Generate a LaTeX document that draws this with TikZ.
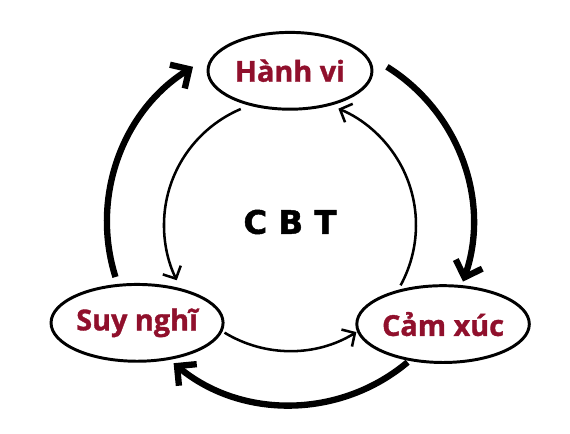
\documentclass[tikz,border=0pt]{standalone}
\usepackage{fontspec}
\setmainfont{Open Sans}[BoldFeatures={FakeBold=1.2}]
\newfontfamily\cbtfont{DejaVu Sans}[BoldFeatures={FakeBold=1.5}]
\usetikzlibrary{arrows.meta,shapes.geometric}
\definecolor{labelred}{RGB}{144,16,44}
\begin{document}
\begin{tikzpicture}[
   bubble/.style={ellipse,draw,line width=2.1pt,minimum width=4.1cm,minimum height=1.92cm,
      inner sep=0pt,text=labelred,font=\fontsize{20.5}{24}\selectfont\bfseries},
   bigloop/.style={line width=4.5pt,-{Straight Barb[length=3.5mm,width=7mm]}},
   smallloop/.style={line width=1.8pt,-{Straight Barb[length=2.4mm,width=5mm]}}]
   \useasboundingbox (-7.25,-5.3) rectangle (7,5.55);
   \node[bubble] (hv) at (90:3.78cm) {Hành vi};
   \node[bubble] (sn) at (213.4:4.58cm) {Suy nghĩ};
   \node[bubble] (cx) at (-33.7:4.6cm) {Cảm xúc};
   \node (cbt) at (0,0) {\cbtfont\bfseries\fontsize{23}{28}\selectfont C B T};

   \coordinate (o1) at (197.5:4.575cm);
   \coordinate (o2) at (58:4.575cm);
   \coordinate (o3) at (-50:4.575cm);
   \draw[bigloop] (o1) arc[start angle=197.5,end angle=122,radius=4.575cm];
   \draw[bigloop] (o2) arc[start angle=58,end angle=-19,radius=4.575cm];
   \draw[bigloop] (o3) arc[start angle=-50,end angle=-129.5,radius=4.575cm];

   \begin{scope}[yshift=-0.075cm]
   \coordinate (i1) at (113:3.15cm);
   \coordinate (i2) at (238.7:3.15cm);
   \coordinate (i3) at (-28.6:3.15cm);
   \draw[smallloop] (i1) arc[start angle=113,end angle=206,radius=3.15cm];
   \draw[smallloop] (i2) arc[start angle=238.7,end angle=301.8,radius=3.15cm];
   \draw[smallloop] (i3) arc[start angle=-28.6,end angle=67.4,radius=3.15cm];
   \end{scope}
\end{tikzpicture}
\end{document}
